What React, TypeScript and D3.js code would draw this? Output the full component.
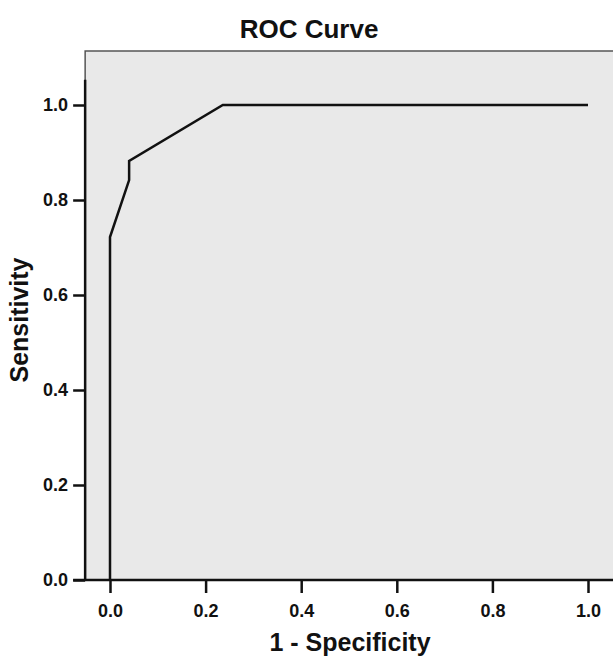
import React, { useEffect, useRef } from 'react'
import * as d3 from 'd3'

// ROC curve points (1 - specificity, sensitivity)
const fpr = [0, 0, 0.04, 0.04, 0.236, 1.0]
const tpr = [0, 0.722, 0.842, 0.882, 1.0, 1.0]
const tickValues = [0, 0.2, 0.4, 0.6, 0.8, 1.0]

const App = () => {
  const ref = useRef<SVGSVGElement>(null)

  useEffect(() => {
    const width = 613
    const svg = d3.select(ref.current)
    svg.selectAll('*').remove()

    const x = d3.scaleLinear().domain([0, 1]).range([110, 588])
    const y = d3.scaleLinear().domain([0, 1]).range([580, 105])

    const left = x(-0.052)
    const right = width
    const top = 51
    const bottom = y(0)

    // plot background
    svg
      .append('rect')
      .attr('x', left)
      .attr('y', top)
      .attr('width', right - left)
      .attr('height', bottom - top)
      .attr('fill', '#e9e9e9')

    // thin frame on top
    svg
      .append('path')
      .attr('d', `M${left},${bottom} V${top} H${right}`)
      .attr('fill', 'none')
      .attr('stroke', '#555')
      .attr('stroke-width', 1.5)

    const font = 'Arial, "Liberation Sans", sans-serif'

    // y axis
    const yAxis = svg
      .append('g')
      .attr('transform', `translate(${left},0)`)
      .call(
        d3
          .axisLeft(y)
          .tickValues(tickValues)
          .tickFormat(d3.format('.1f'))
          .tickSize(12)
          .tickPadding(5)
      )
    yAxis.select('.domain').remove()
    yAxis
      .append('line')
      .attr('x1', 0)
      .attr('x2', 0)
      .attr('y1', y(1.053))
      .attr('y2', bottom)
      .attr('stroke', '#111')
      .attr('stroke-width', 2.5)

    // x axis
    const xAxis = svg
      .append('g')
      .attr('transform', `translate(0,${bottom})`)
      .call(
        d3
          .axisBottom(x)
          .tickValues(tickValues)
          .tickFormat(d3.format('.1f'))
          .tickSize(13)
          .tickPadding(11)
      )
    xAxis.select('.domain').remove()
    xAxis
      .append('line')
      .attr('x1', left - 12)
      .attr('x2', right)
      .attr('y1', 0)
      .attr('y2', 0)
      .attr('stroke', '#111')
      .attr('stroke-width', 2.5)

    svg
      .selectAll('.tick line')
      .attr('stroke', '#111')
      .attr('stroke-width', 2.5)
    svg
      .selectAll('.tick text')
      .attr('fill', '#111')
      .style('font-family', font)
      .style('font-size', '18px')
      .style('font-weight', 'bold')

    // curve
    const pts: [number, number][] = fpr.map((d, i) => [d, tpr[i]])
    const line = d3
      .line<[number, number]>()
      .x((d) => x(d[0]))
      .y((d) => y(d[1]))
    svg
      .append('path')
      .datum(pts)
      .attr('d', line)
      .attr('fill', 'none')
      .attr('stroke', '#111')
      .attr('stroke-width', 2.5)
      .attr('stroke-linejoin', 'miter')

    // title and labels
    svg
      .append('text')
      .attr('x', 309)
      .attr('y', 38)
      .attr('text-anchor', 'middle')
      .style('font-family', font)
      .style('font-size', '26px')
      .style('font-weight', 'bold')
      .attr('fill', '#111')
      .text('ROC Curve')

    svg
      .append('text')
      .attr('x', 350)
      .attr('y', 651)
      .attr('text-anchor', 'middle')
      .style('font-family', font)
      .style('font-size', '25px')
      .style('font-weight', 'bold')
      .attr('fill', '#111')
      .text('1 - Specificity')

    svg
      .append('text')
      .attr('transform', `translate(28,320) rotate(-90)`)
      .attr('text-anchor', 'middle')
      .style('font-family', font)
      .style('font-size', '25px')
      .style('font-weight', 'bold')
      .attr('fill', '#111')
      .text('Sensitivity')
  }, [])

  return (
    <svg
      ref={ref}
      width={613}
      height={656}
      style={{ position: 'absolute', left: 0, top: 0, background: '#fff' }}
    />
  )
}

export default App
